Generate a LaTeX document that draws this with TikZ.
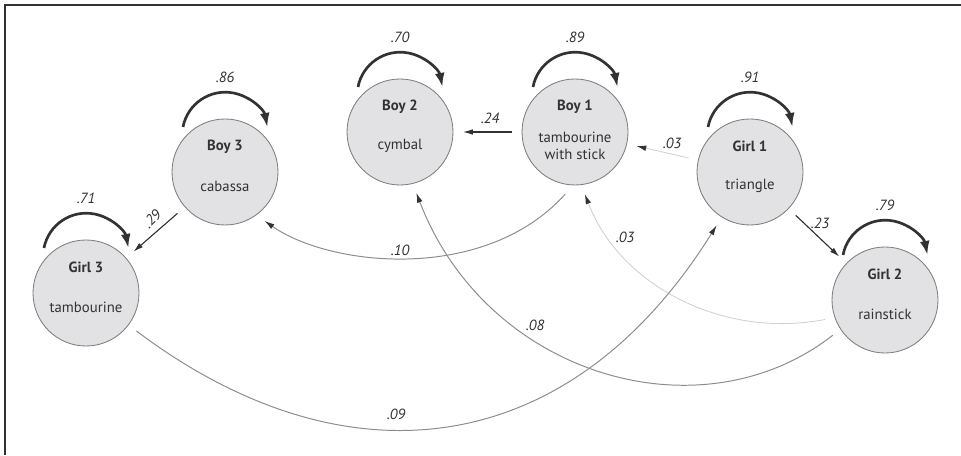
\documentclass[tikz,border=0pt]{standalone}
\usepackage{fontspec}
\setmainfont{PT Sans}
\usepackage{tikz}
\usetikzlibrary{arrows.meta}
\definecolor{nodefill}{RGB}{226,226,228}
\definecolor{nodeline}{RGB}{125,125,125}
\definecolor{inkdark}{RGB}{50,50,50}
\definecolor{midgray}{RGB}{140,140,140}
\definecolor{palegray}{RGB}{208,208,208}
\newcommand{\kid}[4]{
\node[person] (#1) at (#2) {};
\node[who] (#1n) at ([yshift=0.63cm]#1.center) {#3};
\node[what] (#1i) at ([yshift=-0.35cm]#1.center) {#4};
}
\newcommand{\selfloop}[2]{
\draw[loopline] ([shift={(-1.05,1.125)}]#1.center) arc[start angle=169, end angle=11, radius=1.075];
\node[weight] (#1w) at ([yshift=2.375cm]#1.center) {#2};
}

\begin{document}
\begin{tikzpicture}[
    font=\fontsize{10.5}{12.6}\selectfont,
    person/.style={circle, draw=nodeline, line width=0.6pt, fill=nodefill, minimum size=2.65cm, inner sep=0pt, outer sep=0.25cm},
    who/.style={font=\fontsize{10.5}{12.6}\selectfont\bfseries, text=inkdark},
    what/.style={align=center, text=inkdark},
    weight/.style={font=\fontsize{10.5}{12.6}\selectfont\itshape, text=inkdark},
    loopline/.style={line width=1.9pt, inkdark, -{Latex[length=10pt, width=7pt]}},
    strong/.style={line width=0.8pt, inkdark, -{Latex[length=7pt, width=4pt]}},
    weak/.style={line width=0.7pt, midgray, -{Latex[length=7pt, width=4pt, color=inkdark]}},
    faint/.style={line width=0.6pt, palegray, -{Latex[length=7pt, width=4pt, color=inkdark]}}
]
    \useasboundingbox (0,0) rectangle (24.025,11.375);
    \draw[line width=1.4pt, inkdark] (0.125,0) |- (24.025,11.25);

    % children
    \kid{girl3}{2.15,4.05}{Girl 3}{tambourine}
    \kid{boy3}{5.625,7.075}{Boy 3}{cabassa}
    \kid{boy2}{10.0,8.075}{Boy 2}{cymbal}
    \kid{boy1}{14.375,8.075}{Boy 1}{tambourine\\with stick}
    \kid{girl1}{18.75,7.075}{Girl 1}{triangle}
    \kid{girl2}{22.125,3.875}{Girl 2}{rainstick}

    % stability
    \selfloop{girl3}{.71}
    \selfloop{boy3}{.86}
    \selfloop{boy2}{.70}
    \selfloop{boy1}{.89}
    \selfloop{girl1}{.91}
    \selfloop{girl2}{.79}

    % influence
    \draw[strong] (boy1) -- (boy2);
    \draw[faint] (girl1) -- (boy1);
    \draw[strong] (boy3) -- (girl3);
    \draw[strong] (girl1) -- (girl2);
    \draw[weak] (boy1.261) to[out=228, in=-35, out distance=3cm, in distance=2cm] (boy3.309);
    \draw[weak] (girl2.214) to[out=218, in=-69, out distance=4.2cm, in distance=4.9cm] (boy2.285);
    \draw[faint] (girl2.198) to[out=191, in=-69, out distance=2.6cm, in distance=2.45cm] (boy1.279);
    \draw[weak] (girl3.323) to[out=-37, in=238, out distance=6.5cm, in distance=7cm] (girl1.238);

    \node[weight] (w24) at (12.25,8.425) {.24};
    \node[weight] (w03a) at (16.8,7.8) {.03};
    \node[weight, rotate=45] (w29) at (3.8,5.9) {.29};
    \node[weight] (w23) at (20.5,5.8) {.23};
    \node[weight] (w10) at (10.0,5.125) {.10};
    \node[weight] (w03b) at (15.625,5.45) {.03};
    \node[weight] (w08) at (13.375,3.25) {.08};
    \node[weight] (w09) at (9.9,1.025) {.09};
\end{tikzpicture}
\end{document}
